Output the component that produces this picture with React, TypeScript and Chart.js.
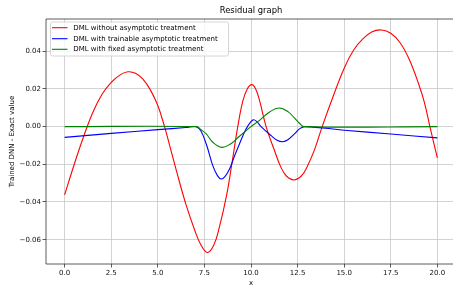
import React, { useEffect, useRef } from "react";
import { Chart, registerables } from "chart.js";

Chart.register(...registerables);

const seriesNames = [
  "DML without asymptotic treatment",
  "DML with trainable asymptotic treatment",
  "DML with fixed asymptotic treatment",
];
const seriesColors = ["#ff0000", "#0000ff", "#008000"];

const redX = [0, 0.5, 1.0, 1.5, 2.0, 2.5, 3.0, 3.4, 3.8, 4.2, 4.6, 5.0, 5.36, 5.63, 6.0, 6.5, 7.0, 7.3, 7.65, 8.0, 8.3, 8.7, 9.0, 9.29, 9.56, 9.8, 10.04, 10.25, 10.46, 10.81, 11.26, 11.6, 11.9, 12.3, 12.7, 13.0, 13.4, 13.82, 14.39, 15.0, 15.5, 16.0, 16.5, 17.0, 17.5, 18.0, 18.5, 19.0, 19.3, 19.6, 20.0];
const redY = [-0.0362, -0.0205, -0.0058, 0.0072, 0.017, 0.0235, 0.0276, 0.0291, 0.0283, 0.0252, 0.0195, 0.0112, 0.0, -0.0098, -0.0235, -0.041, -0.0555, -0.0625, -0.0668, -0.063, -0.0535, -0.036, -0.018, 0.0, 0.0135, 0.02, 0.0223, 0.02, 0.0138, 0.0, -0.0127, -0.0215, -0.0262, -0.0283, -0.0262, -0.0215, -0.0125, 0.0, 0.0156, 0.031, 0.0405, 0.0465, 0.0503, 0.0513, 0.0495, 0.0445, 0.0355, 0.0225, 0.013, 0.0, -0.0166];

const blueX = [0, 2.5, 5.0, 6.5, 7.06, 7.3, 7.6, 7.95, 8.2, 8.4, 8.6, 8.85, 9.1, 9.38, 9.74, 10.1, 10.3, 10.54, 11.08, 11.4, 11.7, 12.0, 12.33, 12.6, 12.9, 15.0, 17.5, 20.0];
const blueY = [-0.0057, -0.0036, -0.0016, -0.0005, 0.0, -0.0021, -0.0092, -0.0207, -0.026, -0.0278, -0.0265, -0.0225, -0.016, -0.0092, -0.0012, 0.0035, 0.0028, 0.0, -0.0048, -0.0072, -0.008, -0.0068, -0.0039, -0.0012, 0.0, -0.0019, -0.0039, -0.006];

const greenX = [0, 7.06, 7.3, 7.6, 7.95, 8.44, 8.9, 9.38, 9.74, 10.0, 10.46, 11.0, 11.53, 12.0, 12.33, 12.6, 12.87, 20.0];
const greenY = [0, 0, -0.0015, -0.0039, -0.0083, -0.011, -0.0092, -0.0051, -0.0021, 0.0, 0.0033, 0.0078, 0.0099, 0.0078, 0.0046, 0.0018, 0.0, 0];

const xTicks = [0, 2.5, 5, 7.5, 10, 12.5, 15, 17.5, 20];
const xTickLabels = ["0.0", "2.5", "5.0", "7.5", "10.0", "12.5", "15.0", "17.5", "20.0"];
const yTicks = [-0.06, -0.04, -0.02, 0.0, 0.02, 0.04];
const yTickLabels = ["\u22120.06", "\u22120.04", "\u22120.02", "0.00", "0.02", "0.04"];

const titleText = "Residual graph";
const xLabel = "x";
const yLabel = "Trained DNN - Exact value";

const FONT = "'DejaVu Sans', sans-serif";

const zip = (xs: number[], ys: number[]) => xs.map((x, i) => ({ x, y: ys[i] }));

export default function App() {
  const ref = useRef<HTMLCanvasElement | null>(null);
  useEffect(() => {
    if (!ref.current) return;
    const decor = {
      id: "decor",
      afterDatasetsDraw(chart: any) {
        const ctx = chart.ctx;
        const a = chart.chartArea;
        ctx.save();
        ctx.strokeStyle = "#333";
        ctx.lineWidth = 0.8;
        ctx.beginPath();
        ctx.moveTo(a.left, a.bottom);
        ctx.lineTo(a.right + 10, a.bottom);
        ctx.moveTo(a.left, a.bottom);
        ctx.lineTo(a.left, a.top);
        ctx.lineTo(a.right + 10, a.top);
        ctx.stroke();
        ctx.restore();
      },
      afterDraw(chart: any) {
        const ctx = chart.ctx;
        const a = chart.chartArea;
        ctx.save();
        // title
        ctx.fillStyle = "#000";
        ctx.font = `8.4px ${FONT}`;
        ctx.textAlign = "center";
        ctx.textBaseline = "alphabetic";
        ctx.fillText(titleText, (a.left + a.right) / 2, 13);
        // x label
        ctx.font = `7px ${FONT}`;
        ctx.fillText(xLabel, (a.left + a.right) / 2, 284.5);
        // y label
        ctx.save();
        ctx.translate(11.7, (a.top + a.bottom) / 2);
        ctx.rotate(-Math.PI / 2);
        ctx.textBaseline = "middle";
        ctx.fillText(yLabel, 0, 0);
        ctx.restore();
        // legend
        const lx = 50.5, ly = 22, lw = 178, lh = 34, r = 2;
        ctx.beginPath();
        ctx.moveTo(lx + r, ly);
        ctx.lineTo(lx + lw - r, ly);
        ctx.quadraticCurveTo(lx + lw, ly, lx + lw, ly + r);
        ctx.lineTo(lx + lw, ly + lh - r);
        ctx.quadraticCurveTo(lx + lw, ly + lh, lx + lw - r, ly + lh);
        ctx.lineTo(lx + r, ly + lh);
        ctx.quadraticCurveTo(lx, ly + lh, lx, ly + lh - r);
        ctx.lineTo(lx, ly + r);
        ctx.quadraticCurveTo(lx, ly, lx + r, ly);
        ctx.closePath();
        ctx.fillStyle = "rgba(255,255,255,0.8)";
        ctx.fill();
        ctx.strokeStyle = "#cccccc";
        ctx.lineWidth = 0.8;
        ctx.stroke();
        const rows = [27.7, 38.7, 49.3];
        ctx.font = `7px ${FONT}`;
        ctx.textAlign = "left";
        ctx.textBaseline = "middle";
        seriesNames.forEach((name, i) => {
          ctx.strokeStyle = seriesColors[i];
          ctx.lineWidth = 1.1;
          ctx.beginPath();
          ctx.moveTo(52, rows[i]);
          ctx.lineTo(67.5, rows[i]);
          ctx.stroke();
          ctx.fillStyle = "#000";
          ctx.fillText(name, 73.3, rows[i]);
        });
        ctx.restore();
      },
    };

    const ys = [redY, blueY, greenY];
    const xs = [redX, blueX, greenX];
    const chart = new Chart(ref.current, {
      type: "line",
      data: {
        datasets: seriesNames.map((name, i) => ({
          label: name,
          data: zip(xs[i], ys[i]),
          borderColor: seriesColors[i],
          backgroundColor: seriesColors[i],
          borderWidth: 1.1,
          pointRadius: 0,
          fill: false,
          tension: 0.4,
          order: 3 - i,
        })),
      },
      options: {
        animation: false,
        responsive: false,
        devicePixelRatio: 1,
        layout: { padding: { top: 19, left: 0, right: 4, bottom: 0 } },
        plugins: {
          legend: { display: false },
          title: { display: false },
          tooltip: { enabled: false },
        },
        scales: {
          x: {
            type: "linear",
            min: -1,
            max: 21,
            afterBuildTicks: (scale: any) => {
              scale.ticks = xTicks.map((v) => ({ value: v }));
            },
            afterFit: (scale: any) => {
              scale.height = 23;
            },
            ticks: {
              callback: (_v: any, i: number) => xTickLabels[i],
              font: { family: FONT, size: 7 },
              color: "#111",
              padding: 1.5,
              maxRotation: 0,
              autoSkip: false,
            },
            grid: {
              color: "#c8c8c8",
              lineWidth: 0.8,
              tickColor: "#333",
              tickWidth: 0.8,
              tickLength: 3.5,
            },
            border: { display: false },
          },
          y: {
            type: "linear",
            min: -0.0729,
            max: 0.0571,
            afterBuildTicks: (scale: any) => {
              scale.ticks = yTicks.map((v) => ({ value: v }));
            },
            afterFit: (scale: any) => {
              scale.width = 46;
            },
            ticks: {
              callback: (_v: any, i: number) => yTickLabels[i],
              font: { family: FONT, size: 7 },
              color: "#111",
              padding: 1.5,
              autoSkip: false,
            },
            grid: {
              color: "#c8c8c8",
              lineWidth: 0.8,
              tickColor: "#333",
              tickWidth: 0.8,
              tickLength: 3.5,
            },
            border: { display: false },
          },
        },
      },
      plugins: [decor],
    });
    return () => chart.destroy();
  }, []);

  return (
    <div
      style={{
        position: "fixed",
        left: 0,
        top: 0,
        width: 453,
        height: 287,
        overflow: "hidden",
        background: "#fff",
      }}
    >
      <canvas ref={ref} width={460} height={287} style={{ display: "block" }} />
    </div>
  );
}
